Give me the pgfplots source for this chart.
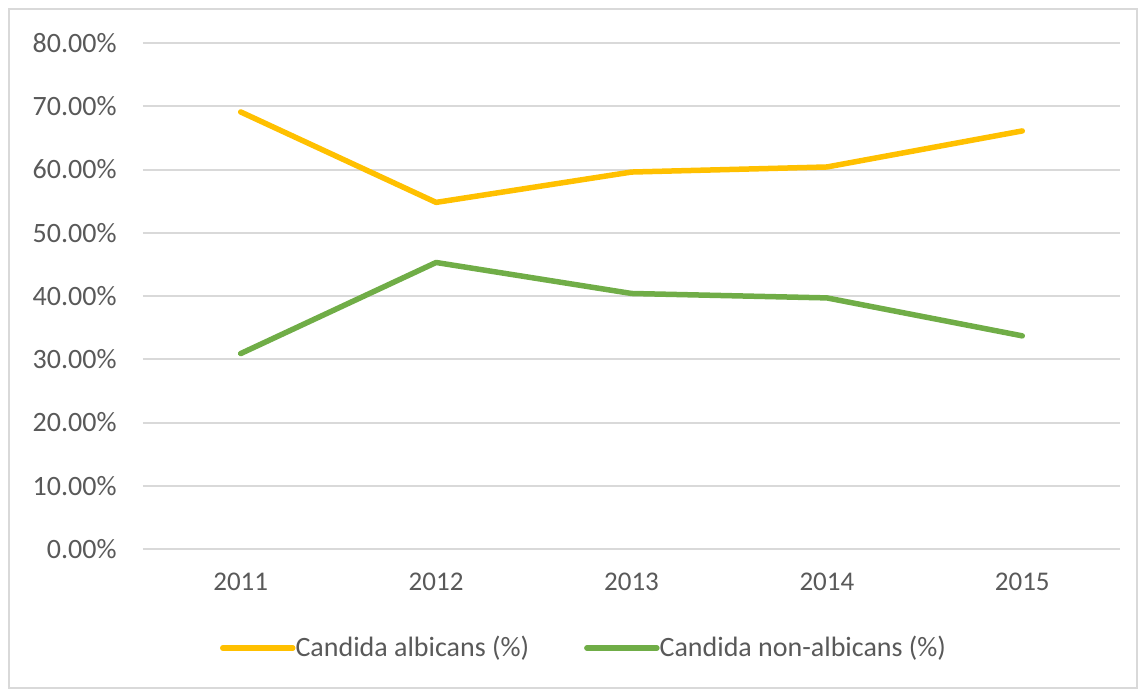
\documentclass[border=0pt]{standalone}
\usepackage{pgfplots}
\pgfplotsset{compat=1.18}
\usepackage{fontspec}
\setmainfont{Carlito}
\definecolor{gridgray}{HTML}{D9D9D9}
\definecolor{txtgray}{HTML}{595959}
\definecolor{xlgold}{HTML}{FFC000}
\definecolor{xlgreen}{HTML}{70AD47}
\begin{document}
\begin{tikzpicture}
\path[use as bounding box] (0pt,0pt) rectangle (571pt,345.5pt);
\draw[gridgray, line width=1pt] (4.5pt,1.5pt) rectangle (568.5pt,341pt);
\begin{axis}[
  at={(71.5pt,71pt)}, anchor=south west,
  scale only axis,
  width=488.5pt, height=253pt,
  xmin=-0.5, xmax=4.5,
  ymin=0, ymax=80,
  xtick={0,1,2,3,4},
  xticklabels={2011,2012,2013,2014,2015},
  ytick={0,10,20,30,40,50,60,70,80},
  /pgf/number format/assume math mode=true,
  yticklabel={\pgfmathprintnumber[fixed,fixed zerofill,precision=2]{\tick}\%},
  ymajorgrids,
  grid style={gridgray, line width=1pt},
  axis x line*=bottom,
  axis y line*=left,
  x axis line style={gridgray, line width=1pt, -},
  y axis line style={draw=none},
  major tick length=0pt,
  tick style={draw=none},
  xticklabel style={font=\fontsize{13.5pt}{16pt}\selectfont, text=txtgray, anchor=north, inner sep=0pt, yshift=-12pt},
  yticklabel style={font=\fontsize{14pt}{16pt}\selectfont, text=txtgray, anchor=east, inner sep=0pt, xshift=-13pt},
  legend style={
    at={(0.4504,-0.1957)}, anchor=center,
    draw=none, fill=none,
    font=\fontsize{14pt}{16pt}\selectfont, text=txtgray,
    legend columns=2,
    /tikz/every even column/.append style={column sep=27.5pt},
    nodes={inner sep=0pt},
  },
  legend cell align=left,
  legend image code/.code={\draw[#1] (0pt,0pt) -- (35pt,0pt);},
  clip=false,
]
\addplot[xlgold, line width=2.75pt, line join=round, line cap=round] coordinates {
  (0,69.1) (1,54.8) (2,59.6) (3,60.4) (4,66.1)
};
\addlegendentry{Candida albicans (\%)}
\addplot[xlgreen, line width=2.75pt, line join=round, line cap=round] coordinates {
  (0,30.9) (1,45.3) (2,40.4) (3,39.7) (4,33.7)
};
\addlegendentry{Candida non-albicans (\%)}
\end{axis}
\end{tikzpicture}
\end{document}
